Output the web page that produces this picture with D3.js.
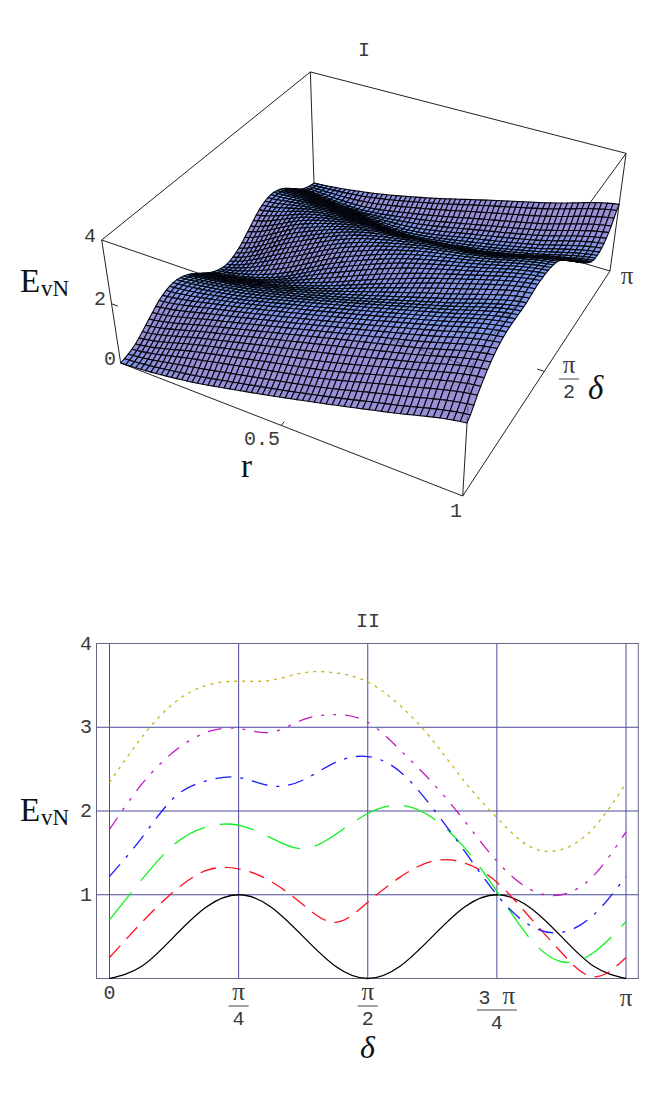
<!DOCTYPE html>
<html>
<head>
<meta charset="utf-8">
<script src="https://cdn.jsdelivr.net/npm/d3@7"></script>
<style>
html,body{margin:0;padding:0;background:#fff;}
svg{display:block;}
.mono{font-family:"Liberation Mono",monospace;fill:#3a3a3a;}
.serif{font-family:"Liberation Serif",serif;fill:#111;}
</style>
</head>
<body>
<svg id="chart" width="655" height="1116"></svg>
<script>
// delta samples, in units of pi/16
const deltaSteps = [0,1,2,3,4,5,6,7,8,9,10,11,12,13,14,15,16];
const rValues = [0,0.2,0.4,0.6,0.8,1];

const curveBlack   = [0,0.146,0.5,0.854,1,0.854,0.5,0.146,0,0.146,0.5,0.854,1,0.854,0.5,0.146,0];
const curveRed     = [0.25,0.67,1.04,1.29,1.31,1.16,0.88,0.67,0.91,1.21,1.40,1.38,1.15,0.74,0.31,0.02,0.25];
const curveGreen   = [0.70,1.18,1.60,1.81,1.83,1.68,1.55,1.72,1.97,2.07,1.92,1.56,1.04,0.49,0.20,0.31,0.68];
const curveBlue    = [1.22,1.68,2.16,2.36,2.40,2.30,2.37,2.58,2.65,2.47,2.04,1.52,1.00,0.64,0.55,0.76,1.22];
const curveMagenta = [1.78,2.32,2.71,2.94,2.985,2.94,3.09,3.15,3.06,2.73,2.34,1.88,1.40,1.07,1.00,1.23,1.75];
const curveOlive   = [2.34,2.88,3.29,3.50,3.55,3.56,3.65,3.65,3.54,3.26,2.85,2.35,1.92,1.58,1.54,1.80,2.33];

const curves = [curveBlack,curveRed,curveGreen,curveBlue,curveMagenta,curveOlive];
const curveColors = ["#000000","#ff1020","#10f020","#1818ff","#c018c0","#c8b418"];
const curveDashes = ["none","16,9","35,15","16,9,3,9","14,9,3,9,3,9","3,5"];

const yTicks = [1,2,3,4];
const xTickSteps = [0,4,8,12,16];

const svg = d3.select("#chart");

//#region plot I, the box is a projective map fitted to its corners

const P00 = [120.7,363], P10 = [462.7,496], P11 = [610,271], P01 = [314,183];
const T00 = [101.7,240], T11 = [626,154];

function meetPoint(a,b,c,d){
    let s1 = (b[0]-a[0])/(b[1]-a[1]), s2 = (d[0]-c[0])/(d[1]-c[1]);
    let y = (c[0]-a[0] + s1*a[1] - s2*c[1])/(s1-s2);
    return [a[0]+s1*(y-a[1]),y];
}

const vanish = meetPoint(P00,T00,P11,T11);
const sx = P00[0]-P10[0]+P11[0]-P01[0], sy = P00[1]-P10[1]+P11[1]-P01[1];
const dx1 = P10[0]-P11[0], dx2 = P01[0]-P11[0], dy1 = P10[1]-P11[1], dy2 = P01[1]-P11[1];
const den = dx1*dy2-dx2*dy1;
const hg = (sx*dy2-dx2*sy)/den, hh = (dx1*sy-sx*dy1)/den;
const ha = P10[0]-P00[0]+hg*P10[0], hb = P01[0]-P00[0]+hh*P01[0];
const hd = P10[1]-P00[1]+hg*P10[1], he = P01[1]-P00[1]+hh*P01[1];
const lam = (T00[1]-P00[1])/(vanish[1]-T00[1]);

function project(r,v,e){
    // r in 0..1, v is delta/pi in 0..1, e is EvN
    let z = lam*e/4;
    let w = hg*r+hh*v+1+z;
    return [(ha*r+hb*v+P00[0]+z*vanish[0])/w,(hd*r+he*v+P00[1]+z*vanish[1])/w];
}

function catmull(a,b,c,d,t){
    return 0.5*(2*b+(c-a)*t+(2*a-5*b+4*c-d)*t*t+(3*b-a-3*c+d)*t*t*t);
}

function alongDelta(row,v){
    let p = v*16, i = Math.min(15,Math.floor(p)), t = p-i;
    let a = row[Math.max(0,i-1)], d = row[Math.min(16,i+2)];
    return catmull(a,row[i],row[i+1],d,t);
}

function surface(r,v){
    let p = r*5, i = Math.min(4,Math.floor(p)), t = p-i;
    let a = curves[Math.max(0,i-1)], d = curves[Math.min(5,i+2)];
    return Math.max(0,catmull(alongDelta(a,v),alongDelta(curves[i],v),alongDelta(curves[i+1],v),alongDelta(d,v),t));
}

const boxLine = d3.line();
const boxEdges = [
    [[0,0,4],[0,1,4]],[[0,1,4],[1,1,4]],[[0,0,4],[1,0,4]],[[1,0,4],[1,1,4]],
    [[0,0,0],[0,0,4]],[[0,1,0],[0,1,4]],[[1,1,0],[1,1,4]],[[1,0,0],[1,0,4]],
    [[0,0,0],[1,0,0]],[[1,0,0],[1,1,0]],[[0,1,0],[1,1,0]]
];
svg.append("g").selectAll("path")
    .data(boxEdges)
    .join("path")
    .attr("d",d => boxLine(d.map(p => project(p[0],p[1],p[2]))))
    .attr("fill","none")
    .attr("stroke","#222")
    .attr("stroke-width",1);

// small ticks on the box
const boxTicks = [[[0.5,0,0],[0.5,0.015,0]],[[1,0.5,0],[0.98,0.5,0]],[[0,0,2],[0.02,0,2]]];
svg.append("g").selectAll("path")
    .data(boxTicks)
    .join("path")
    .attr("d",d => boxLine(d.map(p => project(p[0],p[1],p[2]))))
    .attr("stroke","#222");

const slopeColor = d3.scaleLinear()
    .domain([-14,-5,0,5,12])
    .range(["#5a9ad2","#74b4f0","#7a98ee","#9490d8","#a08ed4"])
    .clamp(true);

const meshCount = 60;
const cells = [];
for(let j=meshCount-1;j>=0;j--){
    for(let i=0;i<meshCount;i++){
        cells.push([i/meshCount,j/meshCount,(i+1)/meshCount,(j+1)/meshCount]);
    }
}

svg.append("g").selectAll("path")
    .data(cells)
    .join("path")
    .attr("d",d => boxLine([
        project(d[0],d[1],surface(d[0],d[1])),
        project(d[2],d[1],surface(d[2],d[1])),
        project(d[2],d[3],surface(d[2],d[3])),
        project(d[0],d[3],surface(d[0],d[3]))
    ])+"Z")
    .attr("fill",d => {
        let mr = (d[0]+d[2])/2;
        let slope = (surface(mr,d[3])-surface(mr,d[1]))/(d[3]-d[1]);
        return slopeColor(slope);
    })
    .attr("stroke","#05050c")
    .attr("stroke-width",1.1)
    .attr("stroke-linejoin","round");

// faint box edges that show through the surface
const ghostEdges = [[[0.78,0,4],[1,0,4]],[[1,0,4],[1,0.3,4]],[[1,0,4],[1,0,2.3]]];
svg.append("g").selectAll("path")
    .data(ghostEdges)
    .join("path")
    .attr("d",d => boxLine(d.map(p => project(p[0],p[1],p[2]))))
    .attr("fill","none")
    .attr("stroke","#111")
    .attr("stroke-opacity",0.5)
    .attr("stroke-dasharray","6,4");

function putText(x,y,str,cls,size,anchor){
    return svg.append("text")
        .attr("x",x).attr("y",y)
        .attr("class",cls)
        .style("font-size",size+"px")
        .attr("text-anchor",anchor || "start")
        .text(str);
}

function putFraction(cx,y,coef,bottom,barWidth){
    // top label (optional digit in front of pi), a bar and the denominator under it
    let top = svg.append("text")
        .attr("x",cx).attr("y",y)
        .attr("text-anchor","middle");
    if(coef){
        top.append("tspan").attr("class","mono").style("font-size","20px").text(coef+"\u00a0");
    }
    top.append("tspan").attr("class","serif").style("font-size","25px").style("fill","#3a3a3a").text("π");
    svg.append("line")
        .attr("x1",cx-barWidth/2).attr("x2",cx+barWidth/2)
        .attr("y1",y+6).attr("y2",y+6)
        .attr("stroke","#444");
    putText(cx,y+25,bottom,"mono",20,"middle");
}

function putEvN(x,y){
    putText(x,y,"E","serif",33);
    putText(x+21,y+4,"vN","serif",23);
}

putText(364,56,"I","mono",20,"middle");
putText(368,627,"II","mono",20,"middle");
putEvN(20,292);
putText(90,242,"4","mono",20,"middle");
putText(100,305,"2","mono",20,"middle");
putText(110,365,"0","mono",20,"middle");
putText(262,445,"0.5","mono",20,"middle");
putText(241,477,"r","serif",33);
putText(456,517,"1","mono",20,"middle");
putText(627,284,"π","serif",25,"middle").style("fill","#3a3a3a");
putFraction(569,373,"","2",20);
putText(588,399,"δ","serif",33).style("font-style","italic");

//#endregion

//#region plot II

const xScale = d3.scaleLinear().domain([0,16]).range([109.5,626]);
const yScale = d3.scaleLinear().domain([0,4]).range([978.5,643.5]);

const xAxis = d3.axisBottom(xScale).tickValues(xTickSteps).tickSize(-335).tickFormat("").offset(0);
const yAxis = d3.axisLeft(yScale).tickValues(yTicks).tickSize(-541.5).tickFormat("").offset(0);

const gridX = svg.append("g").attr("transform","translate(0,978.5)").call(xAxis);
const gridY = svg.append("g").attr("transform","translate(97,0)").call(yAxis);
[gridX,gridY].forEach(g => {
    g.select(".domain").remove();
    g.selectAll(".tick line").attr("stroke","#4a4a9c").attr("stroke-width",1);
});

svg.append("rect")
    .attr("x",96.5).attr("y",643.5)
    .attr("width",541.8).attr("height",335)
    .attr("fill","none")
    .attr("stroke","#666680");

const curveLine = d3.line()
    .x((d,i) => xScale(deltaSteps[i]))
    .y(d => yScale(d))
    .curve(d3.curveNatural);

svg.append("g").selectAll("path")
    .data(curves)
    .join("path")
    .attr("d",d => curveLine(d))
    .attr("fill","none")
    .attr("stroke",(d,i) => curveColors[i])
    .attr("stroke-dasharray",(d,i) => curveDashes[i])
    .attr("stroke-width",1.3);

yTicks.forEach(t => putText(86,yScale(t)+6,t,"mono",20,"middle"));
putText(xScale(0),999,"0","mono",20,"middle");
putFraction(xScale(4),1000,"","4",20);
putFraction(xScale(8),1000,"","2",20);
putFraction(xScale(12),1004,"3","4",40);
putText(xScale(16),1006,"π","serif",25,"middle").style("fill","#3a3a3a");
putEvN(20,821);
putText(360,1058,"δ","serif",32).style("font-style","italic");

//#endregion
</script>
</body>
</html>
